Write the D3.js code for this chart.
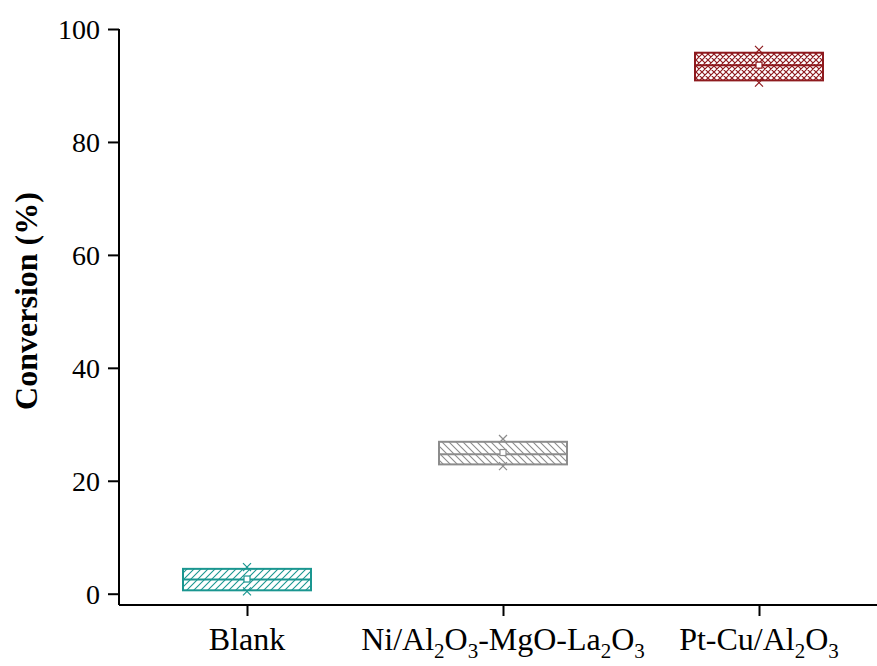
<!DOCTYPE html>
<html>
<head>
<meta charset="utf-8">
<script src="https://cdn.jsdelivr.net/npm/d3@7"></script>
<style>
  body { margin: 0; background: #fff; }
  svg text { font-family: "Liberation Serif", "Times New Roman", serif; fill: #000; }
</style>
</head>
<body>
<div id="chart"></div>
<script>
// categories and box statistics
var categories = ["Blank", "Ni/Al2O3-MgO-La2O3", "Pt-Cu/Al2O3"];
var q1Values = [0.6, 22.9, 90.9];
var q3Values = [4.4, 26.9, 95.8];
var medianValues = [2.5, 24.7, 93.6];
var meanValues = [2.6, 25.0, 93.6];
var minValues = [0.4, 22.6, 90.5];
var maxValues = [4.7, 27.4, 96.3];
var yTicks = [0, 20, 40, 60, 80, 100];

var colors = ["#1a9690", "#8c8c8c", "#8e1a1e"];
var patterns = ["hatchFwd", "hatchBack", "hatchCross"];

var width = 877, height = 666;
var margin = {left: 119, top: 29, bottom: 61};

var svg = d3.select("#chart").append("svg")
  .attr("width", width)
  .attr("height", height);

/* Scales */
var xScale = d3.scaleLinear()
  .domain([0.5, 3.5])
  .range([margin.left, margin.left + 768]);

var yScale = d3.scaleLinear()
  .domain([-2, 100])
  .range([height - margin.bottom, margin.top]);

/* Hatch patterns */
var defs = svg.append("defs");

defs.append("pattern")
  .attr("id", "hatchFwd")
  .attr("patternUnits", "userSpaceOnUse")
  .attr("width", 7).attr("height", 7)
  .append("path")
  .attr("d", "M-1,1 L1,-1 M0,7 L7,0 M6,8 L8,6")
  .attr("stroke", colors[0])
  .attr("stroke-width", 1.1);

defs.append("pattern")
  .attr("id", "hatchBack")
  .attr("patternUnits", "userSpaceOnUse")
  .attr("width", 7).attr("height", 7)
  .append("path")
  .attr("d", "M-1,6 L1,8 M0,0 L7,7 M6,-1 L8,1")
  .attr("stroke", colors[1])
  .attr("stroke-width", 1.1);

var cross = defs.append("pattern")
  .attr("id", "hatchCross")
  .attr("patternUnits", "userSpaceOnUse")
  .attr("width", 6).attr("height", 6);
cross.append("path")
  .attr("d", "M-1,1 L1,-1 M0,6 L6,0 M5,7 L7,5 M-1,5 L1,7 M0,0 L6,6 M5,-1 L7,1")
  .attr("stroke", colors[2])
  .attr("stroke-width", 1.2);

/* Boxes */
var boxWidth = 0.5;
var data = categories.map(function(c, i) {
  return {
    name: c, x: i + 1, q1: q1Values[i], q3: q3Values[i],
    median: medianValues[i], mean: meanValues[i],
    min: minValues[i], max: maxValues[i],
    color: colors[i], pattern: patterns[i]
  };
});

var boxes = svg.append("g").attr("class", "boxes")
  .selectAll("g")
  .data(data).enter()
  .append("g");

// min / max crosses
boxes.each(function(d) {
  var g = d3.select(this);
  [d.min, d.max].forEach(function(v) {
    var cx = xScale(d.x), cy = yScale(v), s = 4;
    g.append("path")
      .attr("d", "M" + (cx - s) + "," + (cy - s) + "L" + (cx + s) + "," + (cy + s) +
                 "M" + (cx - s) + "," + (cy + s) + "L" + (cx + s) + "," + (cy - s))
      .attr("stroke", d.color)
      .attr("stroke-width", 1.2)
      .attr("fill", "none");
  });
});

boxes.append("rect")
  .attr("x", function(d) { return xScale(d.x - boxWidth / 2); })
  .attr("y", function(d) { return yScale(d.q3); })
  .attr("width", function(d) { return xScale(d.x + boxWidth / 2) - xScale(d.x - boxWidth / 2); })
  .attr("height", function(d) { return yScale(d.q1) - yScale(d.q3); })
  .attr("fill", function(d) { return "url(#" + d.pattern + ")"; })
  .attr("stroke", function(d) { return d.color; })
  .attr("stroke-width", 2);

boxes.append("line")
  .attr("x1", function(d) { return xScale(d.x - boxWidth / 2); })
  .attr("x2", function(d) { return xScale(d.x + boxWidth / 2); })
  .attr("y1", function(d) { return yScale(d.median); })
  .attr("y2", function(d) { return yScale(d.median); })
  .attr("stroke", function(d) { return d.color; })
  .attr("stroke-width", 2);

// mean square
boxes.append("rect")
  .attr("x", function(d) { return xScale(d.x) - 3; })
  .attr("y", function(d) { return yScale(d.mean) - 3; })
  .attr("width", 6).attr("height", 6)
  .attr("fill", "#fff")
  .attr("stroke", function(d) { return d.color; })
  .attr("stroke-width", 1.2);

/* Axes */
var yAxis = d3.axisLeft(yScale).tickValues(yTicks).tickSize(11).tickPadding(8);
var xAxis = d3.axisBottom(xScale).tickValues([1, 2, 3]).tickSize(11).tickFormat("");

var gy = svg.append("g")
  .attr("transform", "translate(" + margin.left + ",0)")
  .call(yAxis);
gy.select(".domain").attr("d", "M0," + yScale(100) + "V" + yScale(-2));
gy.selectAll("text").style("font-size", "28px").attr("dy", "0.34em");

var gx = svg.append("g")
  .attr("transform", "translate(0," + yScale(-2) + ")")
  .call(xAxis);
gx.select(".domain").attr("d", "M" + margin.left + ",0H" + width);

svg.selectAll(".tick line").attr("stroke", "#000").attr("stroke-width", 2);
svg.selectAll(".domain").attr("stroke", "#000").attr("stroke-width", 2);

// category labels with subscripts
var labelParts = [
  [["Blank", false]],
  [["Ni/Al", false], ["2", true], ["O", false], ["3", true], ["-MgO-La", false], ["2", true], ["O", false], ["3", true]],
  [["Pt-Cu/Al", false], ["2", true], ["O", false], ["3", true]]
];

labelParts.forEach(function(parts, i) {
  var t = svg.append("text")
    .attr("x", xScale(i + 1))
    .attr("y", 650)
    .attr("text-anchor", "middle")
    .style("font-size", "32px");
  parts.forEach(function(p, j) {
    var prevSub = j > 0 && parts[j - 1][1];
    var ts = t.append("tspan").text(p[0]);
    if (p[1]) ts.attr("dy", prevSub ? 0 : 8).style("font-size", "21px");
    else if (prevSub) ts.attr("dy", -8);
  });
});

svg.append("text")
  .attr("transform", "translate(37,301) rotate(-90)")
  .attr("text-anchor", "middle")
  .style("font-size", "32px")
  .style("font-weight", "bold")
  .text("Conversion (%)");
</script>
</body>
</html>
